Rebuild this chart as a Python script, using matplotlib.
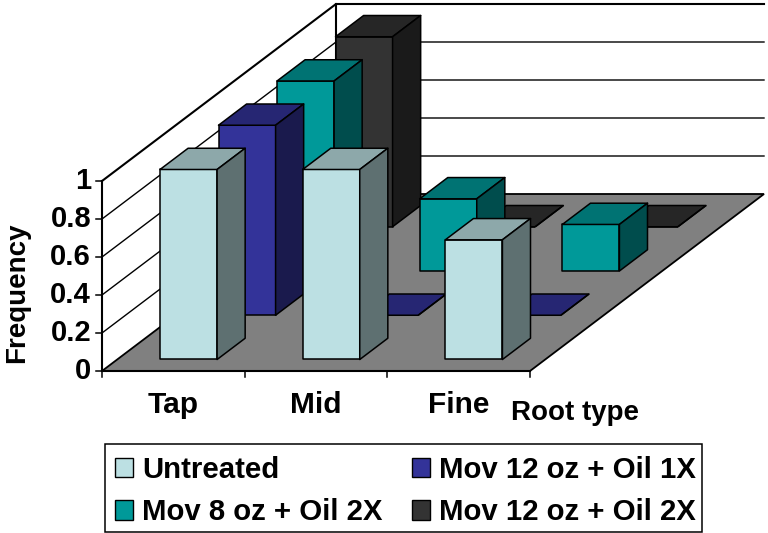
import matplotlib
matplotlib.use('Agg')
import matplotlib.pyplot as plt
from matplotlib.patches import Patch, Polygon, Rectangle

plt.rcParams['font.family'] = ['Liberation Sans', 'DejaVu Sans']
plt.rcParams['font.weight'] = 'bold'

# Data
root_types = ['Tap', 'Mid', 'Fine']
y_ticks = [0, 0.2, 0.4, 0.6, 0.8, 1]
y_tick_labels = ['0', '0.2', '0.4', '0.6', '0.8', '1']
untreated = [1, 1, 0.63]
mov12_oil1x = [1, 0, 0]
mov8_oil2x = [1, 0.38, 0.245]
mov12_oil2x = [1, 0, 0]

series_names = ['Untreated', 'Mov 12 oz + Oil 1X', 'Mov 8 oz + Oil 2X', 'Mov 12 oz + Oil 2X']
series_values = [untreated, mov12_oil1x, mov8_oil2x, mov12_oil2x]

# (front, top, side) shades per series
series_colors = [
    ('#BCE0E3', '#8DA8AA', '#5E7071'),
    ('#333399', '#262673', '#1A1A4D'),
    ('#009999', '#007373', '#004D4D'),
    ('#333333', '#262626', '#1A1A1A'),
]

# Oblique projection, in pixels
X0, Y0 = 102, 371
CAT_W = 142.67
DEPTH_X, DEPTH_Y = 58.5, 44.25
HEIGHT = 190
BAR_W = 0.4
BAR_D = 0.48
BAR_START = 0.26


def project(cat, depth, val):
    return (X0 + CAT_W*cat + DEPTH_X*depth, Y0 - DEPTH_Y*depth - HEIGHT*val)


def draw_bar(ax, cat, series, val, colors):
    left, right = cat + 0.3, cat + 0.3 + BAR_W
    front, back = series + BAR_START, series + BAR_START + BAR_D
    faces = [
        ([(left, front, 0), (right, front, 0), (right, front, val), (left, front, val)], colors[0]),
        ([(left, front, val), (right, front, val), (right, back, val), (left, back, val)], colors[1]),
        ([(right, front, 0), (right, back, 0), (right, back, val), (right, front, val)], colors[2]),
    ]
    for corners, color in faces:
        ax.add_patch(Polygon([project(*c) for c in corners], closed=True, facecolor=color,
                             edgecolor='black', linewidth=1.1, joinstyle='round', zorder=3))


fig = plt.figure(figsize=(7.68, 5.33), dpi=100)
ax = fig.add_axes([0, 0, 1, 1])
ax.set_xlim(0, 768)
ax.set_ylim(533, 0)
ax.axis('off')

n_cat = len(root_types)
n_series = len(series_names)

# Floor
floor = [project(0, 0, 0), project(n_cat, 0, 0), project(n_cat, n_series, 0), project(0, n_series, 0)]
ax.add_patch(Polygon(floor, closed=True, facecolor='#808080', edgecolor='black', linewidth=1.3, zorder=2))

# Gridlines on the side and back walls
for tick in y_ticks[1:]:
    lw = 1.5 if tick == 1 else 1.0
    xs, ys = zip(project(0, 0, tick), project(0, n_series, tick), project(n_cat, n_series, tick))
    ax.plot(xs, ys, color='black', lw=lw, solid_joinstyle='miter', zorder=1)

# Wall edges
xs, ys = zip(project(0, 0, 0), project(0, 0, 1))
ax.plot(xs, ys, color='black', lw=1.5, zorder=1)
xs, ys = zip(project(0, n_series, 0), project(0, n_series, 1))
ax.plot(xs, ys, color='black', lw=1.5, zorder=1)

# Bars, back row first
for s in range(n_series - 1, -1, -1):
    for c in range(n_cat):
        draw_bar(ax, c, s, series_values[s][c], series_colors[s])

# Front axis line and ticks
xs, ys = zip(project(0, 0, 0), project(n_cat, 0, 0))
ax.plot(xs, ys, color='black', lw=1.5, zorder=4)
for c in range(n_cat + 1):
    x, y = project(c, 0, 0)
    ax.plot([x, x], [y, y + 6], color='black', lw=1.1, zorder=4)
for tick, label in zip(y_ticks, y_tick_labels):
    x, y = project(0, 0, tick)
    ax.plot([x - 6, x], [y, y], color='black', lw=1.1, zorder=4)
    ax.text(x - 11, y, label, ha='right', va='center', fontsize=21)

for c, name in enumerate(root_types):
    x, y = project(c + 0.5, 0, 0)
    ax.text(x, 405, name, ha='center', va='center', fontsize=21.5)

ax.text(17, 293, 'Frequency', rotation=90, ha='center', va='center', fontsize=20)
ax.text(511, 413, 'Root type', ha='left', va='center', fontsize=20)

# Legend, with its box drawn separately so it stays inside the figure
ax.add_patch(Rectangle((105, 444), 597, 88, facecolor='white', edgecolor='black', linewidth=1.1, zorder=4))
handles = [Patch(facecolor=c[0], edgecolor='black', linewidth=1.0) for c in series_colors]
order = [0, 2, 1, 3]
leg = ax.legend([handles[i] for i in order], [series_names[i] for i in order], ncol=2,
                loc='upper left', bbox_to_anchor=(105/768, 1 - 446/533), borderaxespad=0,
                fontsize=21.2, handlelength=0.63, handleheight=0.63, handletextpad=0.3,
                columnspacing=0.99, labelspacing=0.5, borderpad=0.33, frameon=False)
leg.set_zorder(5)

fig.savefig('out.png', dpi=100)
